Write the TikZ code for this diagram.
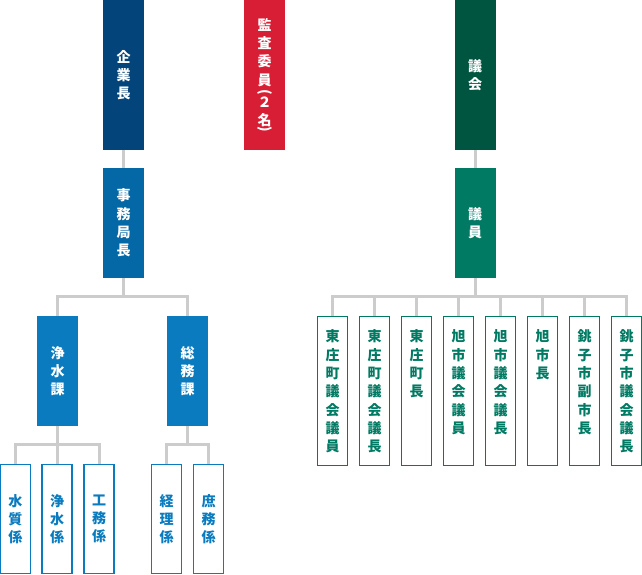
\documentclass[tikz,border=0pt]{standalone}
\usepackage{fontspec}
\setmainfont{Noto Sans CJK JP}
\usepackage{graphicx}
\usepackage{tikz}
\usetikzlibrary{positioning}

\definecolor{kigyoblue}{HTML}{03457A}
\definecolor{jimublue}{HTML}{0468A6}
\definecolor{kablue}{HTML}{0A7BBF}
\definecolor{kansared}{HTML}{D81E34}
\definecolor{gikaigreen}{HTML}{005540}
\definecolor{giingreen}{HTML}{007A63}
\definecolor{linegray}{HTML}{CCCCCC}

% column of text hung from the top of a member box
\newcommand{\topcol}[1]{\parbox[c][122pt][t]{16pt}{\centering #1}}
% vertical brackets
\newcommand{\vopen}{\rotatebox{-90}{(}}
\newcommand{\vclose}{\rotatebox{-90}{)}}

\begin{document}
\begin{tikzpicture}[
    x=1pt, y=-1pt,
    every node/.style={font=\fontsize{14}{18.3}\selectfont\bfseries,
                       align=center, inner sep=0pt},
    head/.style={fill=#1, text=white, minimum width=41pt},
    tall/.style={minimum height=150pt},
    short/.style={minimum height=110pt},
    kakari/.style={draw=kablue, line width=1.2pt, fill=white, text=kablue,
                   minimum width=30pt, minimum height=109pt},
    member/.style={draw=giingreen, line width=1.2pt, fill=white,
                   text=giingreen, minimum width=30pt, minimum height=149pt},
    conn/.style={draw=linegray, line width=3pt}
  ]
  \useasboundingbox (0,0) rectangle (642,574);

  % top row
  \node[head=kigyoblue, tall] (kigyo) at (123.5, 75) {企\\業\\長};
  \node[head=kansared, tall] (kansa) at (264.5, 75)
    {監\\査\\委\\員\\[-14.3pt]\vopen\\[-0.3pt]２\\名\\[-17.8pt]\vclose};
  \node[head=gikaigreen, tall] (gikai) at (475, 75) {議\\会};

  % second row
  \node[head=jimublue, short] (jimu) at (123.5, 223) {事\\務\\局\\長};
  \node[head=giingreen, short] (giin) at (475, 223) {議\\員};

  % sections
  \node[head=kablue, short] (josuika) at (57.5, 371) {浄\\水\\課};
  \node[head=kablue, short] (somuka) at (187.5, 371) {総\\務\\課};

  % sub-sections
  \node[kakari] (suishitsu) at (15.5, 519) {水\\質\\係};
  \node[kakari] (josui) at (57, 519) {浄\\水\\係};
  \node[kakari] (komu) at (99, 519) {工\\務\\係};
  \node[kakari] (keiri) at (166.5, 519) {経\\理\\係};
  \node[kakari] (shomu) at (208.5, 519) {庶\\務\\係};

  % assembly members
  \node[member] (m1) at (332.5, 391) {\topcol{東\\庄\\町\\議\\会\\議\\員}};
  \node[member] (m2) at (374.5, 391) {\topcol{東\\庄\\町\\議\\会\\議\\長}};
  \node[member] (m3) at (416.5, 391) {\topcol{東\\庄\\町\\長}};
  \node[member] (m4) at (458.5, 391) {\topcol{旭\\市\\議\\会\\議\\員}};
  \node[member] (m5) at (500.5, 391) {\topcol{旭\\市\\議\\会\\議\\長}};
  \node[member] (m6) at (542.5, 391) {\topcol{旭\\市\\長}};
  \node[member] (m7) at (584.5, 391) {\topcol{銚\\子\\市\\副\\市\\長}};
  \node[member] (m8) at (626.5, 391) {\topcol{銚\\子\\市\\議\\会\\議\\長}};

  % connectors
  \draw[conn] (kigyo) -- (jimu);
  \draw[conn] (gikai) -- (giin);

  \draw[conn] (jimu.south) -- ++(0,18) coordinate (jbus);
  \draw[conn] (jbus) -| (josuika.north);
  \draw[conn] (jbus) -| (somuka.north);

  \draw[conn] (josuika.south) -- ++(0,18) coordinate (kbus);
  \foreach \n in {suishitsu, josui, komu}
    \draw[conn] (kbus) -| (\n.north);

  \draw[conn] (somuka.south) -- ++(0,18) coordinate (sbus);
  \foreach \n in {keiri, shomu}
    \draw[conn] (sbus) -| (\n.north);

  \draw[conn] (giin.south) -- ++(0,18) coordinate (gbus);
  \foreach \n in {m1, m2, m3, m4, m5, m6, m7, m8}
    \draw[conn] (gbus) -| (\n.north);
\end{tikzpicture}
\end{document}
